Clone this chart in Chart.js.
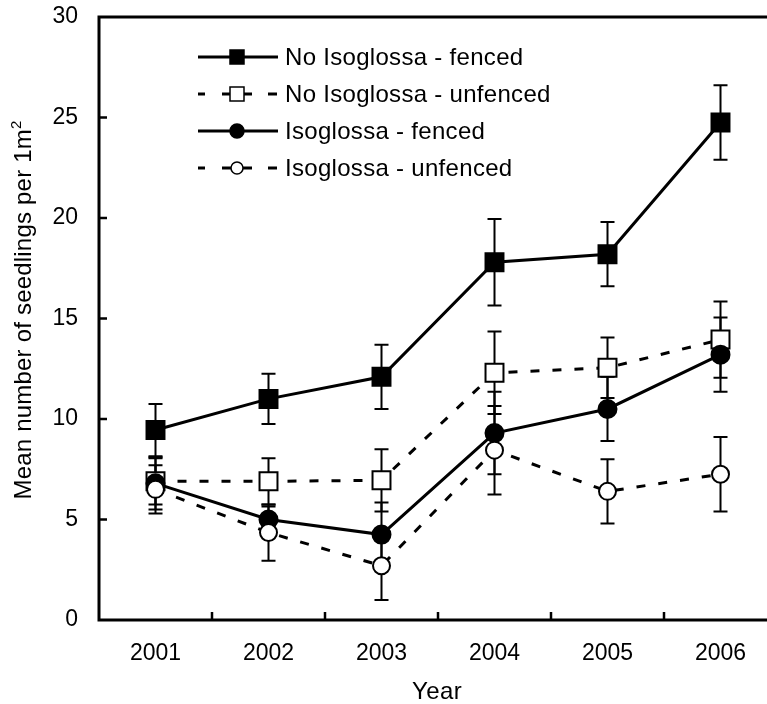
<!DOCTYPE html>
<html>
<head>
<meta charset="utf-8">
<script src="https://cdn.jsdelivr.net/npm/chart.js@4.4.1/dist/chart.umd.min.js"></script>
<style>
  html, body { margin: 0; padding: 0; background: #fff; overflow: hidden; }
  #wrap { position: relative; width: 800px; height: 704px; }
</style>
</head>
<body>
<div id="wrap"><canvas id="c"></canvas></div>
<script>
// ---- data ----
const years = ['2001', '2002', '2003', '2004', '2005', '2006'];
const seriesLabels = ['No Isoglossa - fenced', 'No Isoglossa - unfenced', 'Isoglossa - fenced', 'Isoglossa - unfenced'];
const noIsoFenced      = [9.45, 11.0, 12.1, 17.8, 18.2, 24.75];
const noIsoFencedErr   = [1.3, 1.25, 1.6, 2.15, 1.6, 1.85];
const noIsoUnfenced    = [6.9, 6.9, 6.95, 12.3, 12.55, 13.95];
const noIsoUnfencedErr = [1.15, 1.15, 1.55, 2.05, 1.5, 1.9];
const isoFenced        = [6.8, 5.0, 4.25, 9.3, 10.5, 13.2];
const isoFencedErr     = [1.3, 0.65, 1.6, 2.05, 1.6, 1.85];
const isoUnfenced      = [6.5, 4.35, 2.7, 8.45, 6.4, 7.25];
const isoUnfencedErr   = [1.2, 1.4, 1.7, 2.2, 1.6, 1.85];
const yTicks = [0, 5, 10, 15, 20, 25, 30];
const xTitle = 'Year';
const yTitle = 'Mean number of seedlings per 1m';
const yTitleSup = '2';

const FONT = "'Liberation Sans', Arial, sans-serif";
const FS = 23;
const DASH = [9, 13];

const errs = [noIsoFencedErr, noIsoUnfencedErr, isoFencedErr, isoUnfencedErr];

const errorBars = {
  id: 'errorBars',
  beforeDatasetsDraw(chart) {
    const ctx = chart.ctx, ys = chart.scales.y;
    ctx.save();
    ctx.strokeStyle = '#000';
    ctx.lineWidth = 2;
    chart.data.datasets.forEach((ds, i) => {
      const meta = chart.getDatasetMeta(i);
      meta.data.forEach((pt, j) => {
        const v = ds.data[j], e = errs[i][j];
        const yt = ys.getPixelForValue(v + e), yb = ys.getPixelForValue(v - e);
        const x = pt.x;
        ctx.beginPath();
        ctx.moveTo(x, yt); ctx.lineTo(x, yb);
        ctx.moveTo(x - 7, yt); ctx.lineTo(x + 7, yt);
        ctx.moveTo(x - 7, yb); ctx.lineTo(x + 7, yb);
        ctx.stroke();
      });
    });
    ctx.restore();
  }
};

const frame = {
  id: 'frame',
  beforeDatasetsDraw(chart) {
    const ctx = chart.ctx, a = chart.chartArea, xs = chart.scales.x, ys = chart.scales.y;
    ctx.save();
    ctx.strokeStyle = '#000';
    ctx.lineWidth = 3;
    ctx.lineCap = 'square';
    ctx.beginPath();
    ctx.moveTo(a.right + 5, a.top); ctx.lineTo(a.left, a.top);
    ctx.lineTo(a.left, a.bottom); ctx.lineTo(a.right + 5, a.bottom);
    ctx.stroke();
    ctx.lineCap = 'butt';
    ctx.lineWidth = 2.5;
    ctx.beginPath();
    yTicks.forEach(t => {
      if (t === 0 || t === 30) return;
      const y = ys.getPixelForValue(t);
      ctx.moveTo(a.left, y); ctx.lineTo(a.left + 8, y);
    });
    for (let k = 0; k < years.length; k++) {
      const x = (xs.getPixelForValue(k) + xs.getPixelForValue(k + 1)) / 2;
      ctx.moveTo(x, a.bottom); ctx.lineTo(x, a.bottom - 8);
    }
    ctx.stroke();
    ctx.restore();
  }
};

const titles = {
  id: 'titles',
  afterDraw(chart) {
    const ctx = chart.ctx, a = chart.chartArea;
    ctx.save();
    ctx.fillStyle = '#000';
    ctx.font = '24px ' + FONT;
    ctx.textAlign = 'center';
    ctx.textBaseline = 'middle';
    ctx.letterSpacing = '0.4px';
    ctx.fillText(xTitle, (a.left + a.right) / 2 - 1, 692);
    // y title rotated
    ctx.translate(23, 310);
    ctx.rotate(-Math.PI / 2);
    ctx.letterSpacing = '0.2px';
    const mainW = ctx.measureText(yTitle).width;
    ctx.font = '15px ' + FONT;
    const supW = ctx.measureText(yTitleSup).width;
    const total = mainW + supW;
    ctx.font = '24px ' + FONT;
    ctx.textAlign = 'left';
    ctx.fillText(yTitle, -total / 2, 1);
    ctx.font = '15px ' + FONT;
    ctx.fillText(yTitleSup, -total / 2 + mainW, -6);
    ctx.restore();
  }
};

const legendPlug = {
  id: 'legendPlug',
  afterDraw(chart) {
    const ctx = chart.ctx;
    const rows = [57, 94, 131, 168];
    const x0 = 198, x1 = 278, mx = 237;
    ctx.save();
    seriesLabels.forEach((lab, i) => {
      const y = rows[i];
      const dashed = (i === 1 || i === 3);
      ctx.strokeStyle = '#000';
      ctx.lineWidth = 3;
      ctx.beginPath();
      if (dashed) {
        [[198, 205], [222, 231], [243, 252], [268, 277]].forEach(s => { ctx.moveTo(s[0], y); ctx.lineTo(s[1], y); });
      } else {
        ctx.moveTo(x0, y); ctx.lineTo(x1, y);
      }
      ctx.stroke();
      ctx.lineWidth = 1.5;
      ctx.fillStyle = dashed ? '#fff' : '#000';
      ctx.beginPath();
      if (i < 2) {
        ctx.rect(mx - 7, y - 7, 14, 14);
      } else {
        ctx.arc(mx, y, dashed ? 6 : 7, 0, Math.PI * 2);
      }
      ctx.fill(); ctx.stroke();
      ctx.fillStyle = '#000';
      ctx.font = '24px ' + FONT;
      ctx.letterSpacing = '0.3px';
      ctx.textAlign = 'left';
      ctx.textBaseline = 'middle';
      ctx.fillText(lab, 285, y + 1);
      ctx.letterSpacing = '0px';
    });
    ctx.restore();
  }
};

function ds(label, data, filled, shape, dashed, order) {
  return {
    label, data, order,
    borderColor: '#000', borderWidth: 3,
    borderDash: dashed ? DASH : [],
    fill: false, tension: 0,
    pointStyle: shape,
    pointRadius: shape === 'rect' ? 12.7 : (filled ? 9 : 8.5),
    pointBorderWidth: 2,
    pointBackgroundColor: filled ? '#000' : '#fff',
    pointBorderColor: '#000',
    clip: false
  };
}

new Chart(document.getElementById('c'), {
  type: 'line',
  data: {
    labels: years,
    datasets: [
      ds(seriesLabels[0], noIsoFenced, true, 'rect', false, 3),
      ds(seriesLabels[1], noIsoUnfenced, false, 'rect', true, 2),
      ds(seriesLabels[2], isoFenced, true, 'circle', false, 1),
      ds(seriesLabels[3], isoUnfenced, false, 'circle', true, 0)
    ]
  },
  options: {
    responsive: true,
    maintainAspectRatio: false,
    animation: false,
    layout: { padding: { left: 0, top: 17, right: 23, bottom: 0 } },
    plugins: { legend: { display: false }, tooltip: { enabled: false } },
    scales: {
      x: {
        type: 'category',
        offset: true,
        grid: { display: false, drawTicks: false },
        border: { display: false },
        ticks: { color: '#000', font: { family: FONT, size: FS }, padding: 20, maxRotation: 0 },
        afterFit(s) { s.height = 84; s.paddingLeft = 0; s.paddingRight = 0; }
      },
      y: {
        min: 0, max: 30,
        afterBuildTicks(s) { s.ticks = yTicks.map(v => ({ value: v })); },
        grid: { display: false, drawTicks: false },
        border: { display: false },
        ticks: { color: '#000', font: { family: FONT, size: FS }, padding: 21 },
        afterFit(s) { s.width = 99; s.paddingTop = 0; s.paddingBottom = 0; }
      }
    }
  },
  plugins: [frame, errorBars, legendPlug, titles]
});
</script>
</body>
</html>
